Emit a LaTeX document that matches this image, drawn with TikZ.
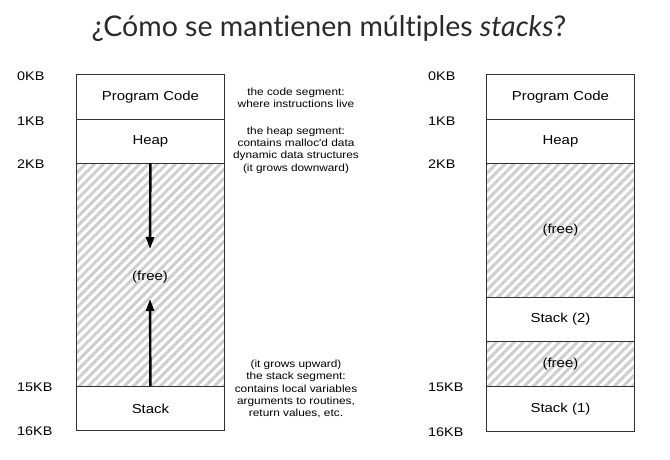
\documentclass[tikz,border=0pt]{standalone}
\usepackage{fontspec}
\setmainfont{Liberation Sans}
\newfontfamily\diagfont[FakeStretch=1.15]{Liberation Sans}
\newfontfamily\titlefont[Ligatures={NoCommon}]{Lato}
\usetikzlibrary{arrows.meta,calc}
\definecolor{titlegray}{HTML}{2A2A2A}
\definecolor{linegray}{HTML}{333333}
\definecolor{hatchgray}{HTML}{D0D0D0}
\tikzset{
  seg/.style={draw=linegray, line width=0.9pt, minimum width=148pt, inner sep=0pt, anchor=north west,
    font=\diagfont\fontsize{13}{15}\selectfont},
  hatched/.style={seg, path picture={
      \foreach \i in {-320,-311,...,320}
        \draw[hatchgray, line width=3pt] ($(path picture bounding box.center)+(\i-250,250)$) -- ++(500,-500);
    }},
  kb/.style={anchor=west, inner sep=0pt, font=\diagfont\fontsize{12.5}{14}\selectfont},
  note/.style={align=center, inner sep=0pt, font=\diagfont\fontsize{10.3}{12.3}\selectfont},
  growarrow/.style={line width=2.4pt, -{Triangle[length=12pt,width=8pt]}},
}
\begin{document}
\begin{tikzpicture}[x=1pt,y=-1pt]
\useasboundingbox (0,0) rectangle (670,459);
% title
\node[font=\titlefont\fontsize{28.5}{32}\selectfont, text=titlegray, anchor=base, inner sep=0pt] (title) at (329,36) {¿Cómo se mantienen múltiples \textit{stacks}?};

% left column
\node[seg, minimum height=45pt] (codeL) at (76,74) {Program Code};
\node[seg, minimum height=44pt] (heapL) at (76,119) {Heap};
\node[hatched, minimum height=223pt] (freeL) at (76,163) {};
\node[font=\diagfont\fontsize{13}{15}\selectfont, inner sep=1pt] (freeLtxt) at (150,277) {(free)};
\node[seg, minimum height=44pt] (stackL) at (76,386) {Stack};
\coordinate (downtip) at (150,249);
\coordinate (uptip) at (150,299);
\draw[growarrow] (freeL.north) -- (downtip);
\draw[growarrow] (stackL.north) -- (uptip);

\node[kb] (l0) at (17,76) {0KB};
\node[kb] (l1) at (17,121) {1KB};
\node[kb] (l2) at (17,164) {2KB};
\node[kb] (l15) at (17,387) {15KB};
\node[kb] (l16) at (17,431) {16KB};

\node[note] (ncode) at (296,98) {the code segment:\\where instructions live};
\node[note] (nheap) at (296,150) {the heap segment:\\contains malloc'd data\\dynamic data structures\\(it grows downward)};
\node[note] (nstack) at (296,389) {(it grows upward)\\the stack segment:\\contains local variables\\arguments to routines,\\return values, etc.};

% right column
\node[seg, minimum height=45pt] (codeR) at (486,74) {Program Code};
\node[seg, minimum height=44pt] (heapR) at (486,119) {Heap};
\node[hatched, minimum height=134pt] (freeR1) at (486,163) {(free)};
\node[seg, minimum height=44pt] (stack2) at (486,297) {Stack (2)};
\node[hatched, minimum height=45pt] (freeR2) at (486,341) {(free)};
\node[seg, minimum height=45pt] (stack1) at (486,386) {Stack (1)};

\node[kb] (r0) at (428,76) {0KB};
\node[kb] (r1) at (428,121) {1KB};
\node[kb] (r2) at (428,164) {2KB};
\node[kb] (r15) at (428,387) {15KB};
\node[kb] (r16) at (428,432) {16KB};
\end{tikzpicture}
\end{document}
